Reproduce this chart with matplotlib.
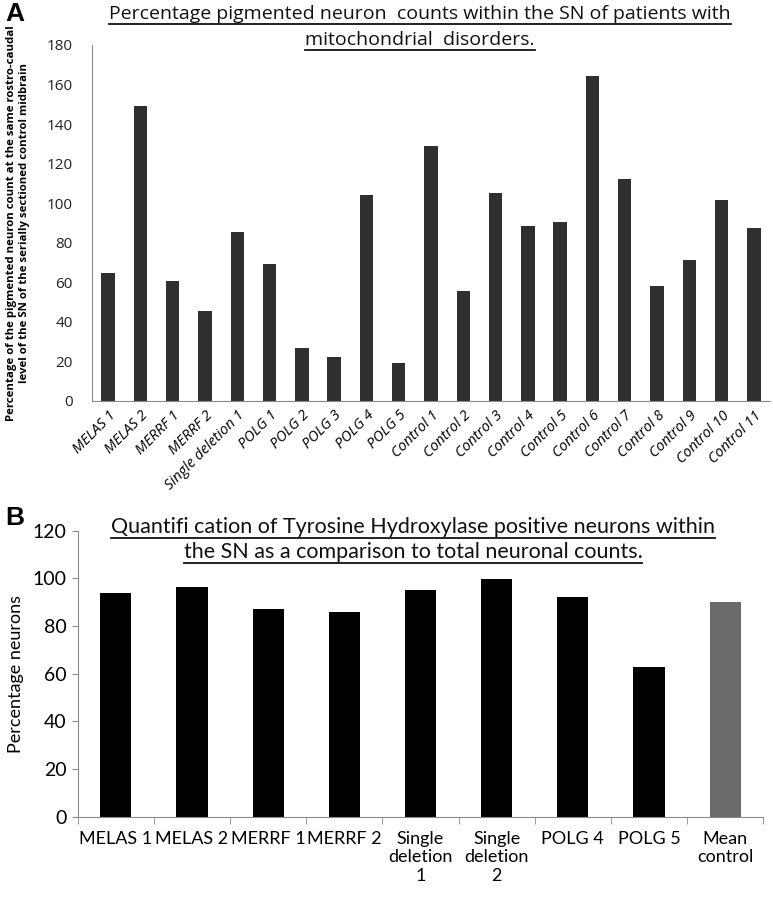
import numpy as np
import matplotlib
matplotlib.use("Agg")
from matplotlib import pyplot as plt
from matplotlib.lines import Line2D

# Panel A: pigmented neuron counts (% of control midbrain)
labelsA = ['MELAS 1', 'MELAS 2', 'MERRF 1', 'MERRF 2', 'Single deletion 1',
           'POLG 1', 'POLG 2', 'POLG 3', 'POLG 4', 'POLG 5',
           'Control 1', 'Control 2', 'Control 3', 'Control 4', 'Control 5',
           'Control 6', 'Control 7', 'Control 8', 'Control 9', 'Control 10',
           'Control 11']
valuesA = [64.5, 149, 60.8, 45.3, 85.4, 69.4, 27, 22.2, 104.1, 19.4,
           128.8, 55.4, 105, 88.6, 90.7, 164.5, 112.2, 58, 71.1, 101.8, 87.3]

# Panel B: TH positive neurons (% of total)
labelsB = ['MELAS 1', 'MELAS 2', 'MERRF 1', 'MERRF 2', 'Single\ndeletion\n1',
           'Single\ndeletion\n2', 'POLG 4', 'POLG 5', 'Mean\ncontrol']
valuesB = [93.7, 96.2, 87.2, 85.7, 95.1, 99.6, 92.2, 62.8, 90.2]
colorsB = ['black'] * 8 + ['#6a6a6a']

narrow = ['Lato', 'DejaVu Sans']
opens = ['Open Sans', 'DejaVu Sans']
plt.rcParams['font.family'] = opens

fig = plt.figure(figsize=(7.73, 9), dpi=100)
W, H = 773, 900

axA = fig.add_axes([92 / W, 1 - 401 / H, 678 / W, 356 / H])
axB = fig.add_axes([77.7 / W, 1 - 816.7 / H, 685.6 / W, 286.1 / H])

spine_col = '#8a8a8a'

# ---- panel A
xA = np.arange(len(labelsA))
axA.bar(xA, valuesA, width=0.42, color='#2f2f2f')
axA.set_xlim(-0.5, len(labelsA) - 0.5)
axA.set_ylim(0, 180)
axA.set_yticks(np.arange(0, 181, 20))
axA.tick_params(axis='y', length=0, labelsize=11, pad=14, colors='#222222')
axA.set_xticks(xA)
axA.set_xticklabels(labelsA, rotation=45, ha='right', rotation_mode='anchor',
                    fontsize=10.5, style='italic')
axA.tick_params(axis='x', length=0, pad=5)
for s in ['top', 'right']:
    axA.spines[s].set_visible(False)
for s in ['left', 'bottom']:
    axA.spines[s].set_color(spine_col)
axA.set_ylabel('Percentage of the pigmented neuron count at the same rostro-caudal\n'
               'level of the SN of the serially sectioned control midbrain',
               fontsize=8.2, fontweight='bold', linespacing=1.25)
axA.yaxis.set_label_coords(-0.092, 0.5)

# ---- panel B
xB = np.arange(len(labelsB))
axB.bar(xB, valuesB, width=0.41, color=colorsB)
axB.set_xlim(-0.5, len(labelsB) - 0.5)
axB.set_ylim(0, 120)
axB.set_yticks(np.arange(0, 121, 20))
axB.tick_params(axis='y', length=4, direction='out', color=spine_col,
                labelsize=14, pad=4)
axB.set_xticks(xB)
axB.set_xticklabels(labelsB, fontsize=13, family=narrow, linespacing=1.2)
axB.set_xticks(np.arange(-0.5, len(labelsB)), minor=True)
axB.tick_params(axis='x', which='major', length=0, pad=10)
axB.tick_params(axis='x', which='minor', length=5, direction='out', color=spine_col)
for s in ['top', 'right']:
    axB.spines[s].set_visible(False)
for s in ['left', 'bottom']:
    axB.spines[s].set_color(spine_col)
for t in axB.get_yticklabels():
    t.set_family(narrow)
axB.set_ylabel('Percentage neurons', fontsize=13, family=narrow)
axB.yaxis.set_label_coords(-0.078, 0.5)

# ---- titles with underline
titles = [
    ('Percentage pigmented neuron  counts within the SN of patients with', 420, 14, 14, opens),
    ('mitochondrial  disorders.', 420, 40, 14, opens),
    ('Quantifi cation of Tyrosine Hydroxylase positive neurons within', 413, 527, 15.5, narrow),
    ('the SN as a comparison to total neuronal counts.', 413, 552, 15.5, narrow),
]
txts = []
for s, x, y, fs, fam in titles:
    txts.append(fig.text(x / W, 1 - y / H, s, ha='center', va='center',
                         fontsize=fs, family=fam, color='#111111'))

fig.text(5 / W, 1 - 14 / H, 'A', fontsize=19, fontweight='bold',
         family=['Liberation Sans', 'DejaVu Sans'], va='center')
fig.text(5 / W, 1 - 518 / H, 'B', fontsize=19, fontweight='bold',
         family=['Liberation Sans', 'DejaVu Sans'], va='center')

fig.canvas.draw()
r = fig.canvas.get_renderer()
for t in txts:
    bb = t.get_window_extent(r)
    yl = bb.y0 - 1
    fig.add_artist(Line2D([bb.x0 / W, bb.x1 / W], [yl / H] * 2,
                          transform=fig.transFigure, color='#111111', lw=1.3))

fig.savefig('out.png', dpi=100)
